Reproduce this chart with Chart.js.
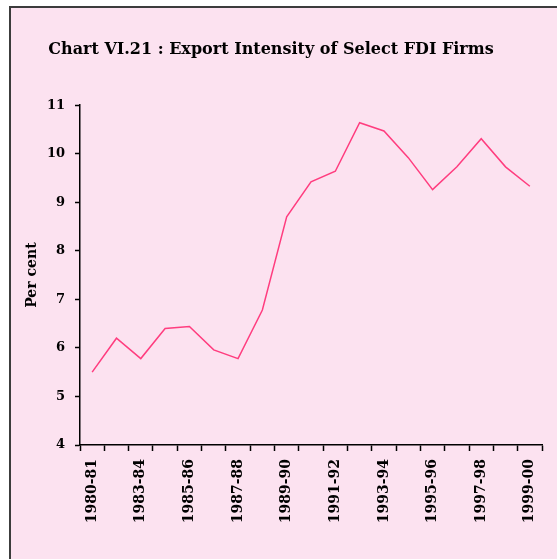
<!DOCTYPE html>
<html lang="en">
<head>
    <meta charset="UTF-8">
    <title>Export Intensity of Select FDI Firms</title>
    <script src="https://cdn.jsdelivr.net/npm/chart.js@4.4.1/dist/chart.umd.min.js"></script>
    <style>
        html, body { margin: 0; padding: 0; background: #fff; }
        #wrap { width: 557px; height: 559px; }
    </style>
</head>
<body>
<div id="wrap"><canvas id="chart" width="557" height="559"></canvas></div>

<script>
    const years = ['1980-81', '1981-82', '1983-84', '1984-85', '1985-86', '1986-87', '1987-88',
        '1988-89', '1989-90', '1990-91', '1991-92', '1992-93', '1993-94', '1994-95',
        '1995-96', '1996-97', '1997-98', '1998-99', '1999-00'];
    const exportIntensity = [5.5, 6.2, 5.78, 6.4, 6.44, 5.96, 5.78, 6.78, 8.7, 9.42,
        9.64, 10.64, 10.47, 9.92, 9.26, 9.73, 10.31, 9.73, 9.33];
    const yTicks = [4, 5, 6, 7, 8, 9, 10, 11];

    const frame = {
        id: 'frame',
        beforeDraw(chart) {
            const ctx = chart.ctx;
            ctx.save();
            ctx.fillStyle = '#ffffff';
            ctx.fillRect(0, 0, chart.width, chart.height);
            ctx.fillStyle = '#fce2f0';
            ctx.fillRect(11, 8, chart.width - 11, chart.height - 8);
            ctx.strokeStyle = '#3c3c3c';
            ctx.lineWidth = 2;
            ctx.beginPath();
            ctx.moveTo(10, chart.height);
            ctx.lineTo(10, 7);
            ctx.lineTo(chart.width, 7);
            ctx.stroke();
            ctx.restore();
        }
    };

    const ctx = document.getElementById('chart').getContext('2d');
    new Chart(ctx, {
        type: 'line',
        data: {
            labels: years,
            datasets: [{
                label: 'Export intensity',
                data: exportIntensity,
                borderColor: '#ff3d7f',
                borderWidth: 1.5,
                pointRadius: 0,
                tension: 0,
                fill: false
            }]
        },
        options: {
            responsive: false,
            animation: false,
            layout: { padding: { left: 0, right: 15, top: 0, bottom: 0 } },
            plugins: {
                legend: { display: false },
                tooltip: { enabled: false },
                title: {
                    display: true,
                    text: 'Chart VI.21 : Export Intensity of Select FDI Firms',
                    color: '#000',
                    font: { family: 'DejaVu Serif', size: 16, weight: 'bold', lineHeight: 1.2 },
                    padding: { top: 40, bottom: 46 }
                }
            },
            scales: {
                x: {
                    offset: true,
                    grid: {
                        offset: true,
                        drawOnChartArea: false,
                        drawTicks: true,
                        tickLength: 6,
                        tickColor: '#000',
                        tickWidth: 1.5
                    },
                    border: { display: true, color: '#000', width: 1.5 },
                    ticks: {
                        autoSkip: false,
                        minRotation: 90,
                        maxRotation: 90,
                        padding: 8,
                        color: '#000',
                        font: { family: 'DejaVu Serif', size: 14, weight: 'bold' },
                        callback: function (value, index) {
                            return index % 2 === 0 ? this.getLabelForValue(value) : '';
                        }
                    },
                    afterFit: function (scale) { scale.height = 114; }
                },
                y: {
                    min: 4,
                    max: 11,
                    afterBuildTicks: function (scale) {
                        scale.ticks = yTicks.map(v => ({ value: v }));
                    },
                    grid: {
                        drawOnChartArea: false,
                        drawTicks: true,
                        tickLength: 5,
                        tickColor: '#000',
                        tickWidth: 1.5
                    },
                    border: { display: true, color: '#000', width: 1.5 },
                    ticks: {
                        padding: 10,
                        color: '#000',
                        font: { family: 'DejaVu Serif', size: 13, weight: 'bold' }
                    },
                    title: {
                        display: true,
                        text: 'Per cent',
                        color: '#000',
                        font: { family: 'DejaVu Serif', size: 14, weight: 'bold' },
                        padding: { top: 24, bottom: 0 }
                    },
                    afterFit: function (scale) { scale.width = 80; }
                }
            }
        },
        plugins: [frame]
    });
</script>
</body>
</html>
